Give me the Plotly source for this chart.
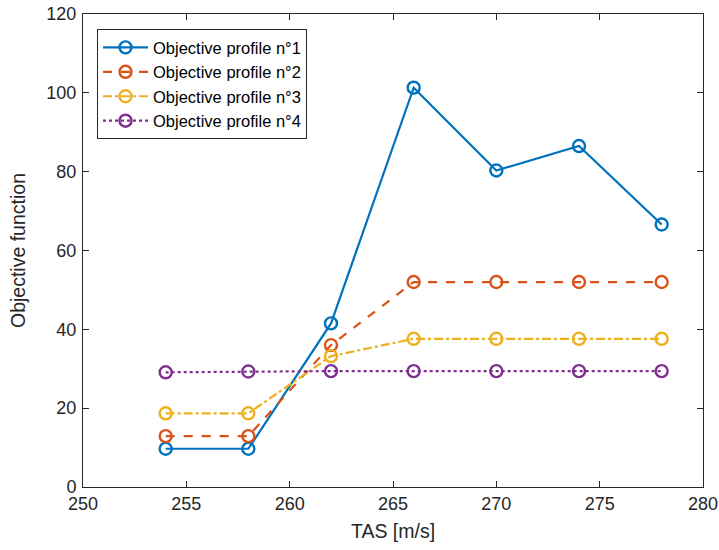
import plotly.graph_objects as go

tas = [254, 258, 262, 266, 270, 274, 278]
profile1 = [9.7, 9.7, 41.5, 101.3, 80.3, 86.5, 66.6]
profile2 = [12.9, 12.9, 36.0, 52.0, 52.0, 52.0, 52.0]
profile3 = [18.7, 18.7, 33.2, 37.6, 37.6, 37.6, 37.6]
profile4 = [29.1, 29.3, 29.4, 29.4, 29.4, 29.4, 29.4]
names = ["Objective profile n°1", "Objective profile n°2", "Objective profile n°3", "Objective profile n°4"]
x_ticks = [250, 255, 260, 265, 270, 275, 280]
y_ticks = [0, 20, 40, 60, 80, 100, 120]

colors = ["#0072BD", "#D95319", "#EDB120", "#7E2F8E"]
dashes = ["solid", "dash", "dashdot", "dot"]

fig = go.Figure()
for ys, nm, c, d in zip([profile1, profile2, profile3, profile4], names, colors, dashes):
    fig.add_trace(go.Scatter(
        x=tas, y=ys, name=nm, mode="lines+markers",
        line=dict(color=c, width=2.2, dash=d),
        marker=dict(symbol="circle-open", size=12, color=c, line=dict(width=2.4, color=c)),
    ))

axis_common = dict(
    showline=True, linecolor="#262626", linewidth=1, mirror="ticks",
    ticks="inside", ticklen=6, tickcolor="#262626", showgrid=False, zeroline=False,
    automargin=False, ticklabeloverflow="allow",
    tickfont=dict(family="Liberation Sans, Arial", size=18, color="#262626"),
)
fig.update_layout(
    width=719, height=550,
    margin=dict(l=83, r=16, t=14, b=63),
    plot_bgcolor="white", paper_bgcolor="white",
    font=dict(family="Liberation Sans, Arial", color="#262626"),
    xaxis=dict(range=[250, 280], tickvals=x_ticks,
               title=dict(text="TAS [m/s]", font=dict(size=19.5, color="#262626"), standoff=11),
               **axis_common),
    yaxis=dict(range=[0, 120], tickvals=y_ticks, ticklabelstandoff=2,
               title=dict(text="Objective function", font=dict(size=19.5, color="#262626")),
               **axis_common),
    legend=dict(x=0.0226, y=0.968, xanchor="left", yanchor="top",
                bordercolor="#262626", borderwidth=1, bgcolor="white",
                font=dict(family="Liberation Sans, Arial", size=16.5, color="black"),
                tracegroupgap=0, itemwidth=45),
    showlegend=True,
)
fig.write_html("out.html", config={"displayModeBar": False},
               post_script="document.body.style.margin='0';document.body.style.overflow='hidden';")
